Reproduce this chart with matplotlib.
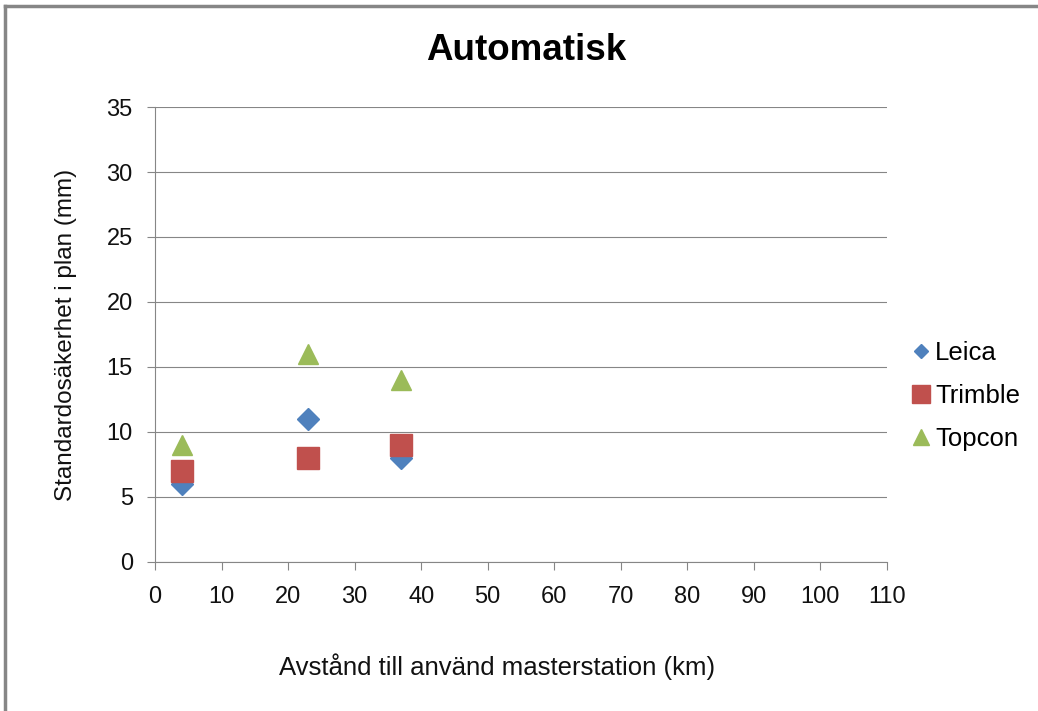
import matplotlib.pyplot as plt
from matplotlib.lines import Line2D

plt.rcParams['font.family'] = ['Liberation Sans', 'DejaVu Sans']

# data
distance = [4, 23, 37]
leica = [6, 11, 8]
trimble = [7, 8, 9]
topcon = [9, 16, 14]

x_ticks = list(range(0, 111, 10))
y_ticks = list(range(0, 36, 5))

grey = '#868686'
c_leica, c_trimble, c_topcon = '#4F81BD', '#C0504D', '#9BBB59'

fig = plt.figure(figsize=[10.38, 7.11], dpi=100)
ax = fig.add_axes([0.1493, 0.2096, 0.7052, 0.6399])

ax.plot(distance, leica, 'D', ms=11, color=c_leica, zorder=3)
ax.plot(distance, trimble, 's', ms=15.5, color=c_trimble, zorder=3)
ax.plot(distance, topcon, '^', ms=15, color=c_topcon, zorder=3)

ax.set_xlim(0, 110)
ax.set_ylim(0, 35)
ax.set_xticks(x_ticks)
ax.set_yticks(y_ticks)
ax.grid(axis='y', color=grey, linewidth=0.8)
ax.set_axisbelow(True)
for s in ['top', 'right']:
    ax.spines[s].set_visible(False)
for s in ['left', 'bottom']:
    ax.spines[s].set_color(grey)
    ax.spines[s].set_linewidth(0.8)
ax.tick_params(colors=grey, labelcolor='#111111', labelsize=17, length=5.5, width=0.8)
ax.tick_params(axis='y', pad=10.5)
ax.tick_params(axis='x', pad=12)

# title
fig.text(0.5067, 1 - 60 / 711, 'Automatisk', fontsize=26.5, fontweight='bold',
         ha='center', va='baseline')

ax.set_xlabel('Avstånd till använd masterstation (km)', fontsize=18.5, color='#111111')
ax.xaxis.label.set_va('baseline')
ax.xaxis.set_label_coords(0.467, -0.248)
ax.set_ylabel('Standardosäkerhet i plan (mm)', fontsize=17.5, color='#111111')
ax.yaxis.label.set_va('baseline')
ax.yaxis.set_label_coords(-0.1134, 0.5)

handles = [
    Line2D([], [], marker='D', ls='', ms=7.1, color=c_leica),
    Line2D([], [], marker='s', ls='', ms=13, color=c_trimble),
    Line2D([], [], marker='^', ls='', ms=11, color=c_topcon),
]
fig.legend(handles, ['Leica', 'Trimble', 'Topcon'], loc='center left',
           bbox_to_anchor=(0.878, 0.443), frameon=False, fontsize=18.5,
           handlelength=0.75, handletextpad=0.18, labelspacing=0.75,
           borderpad=0, borderaxespad=0)

# chart border (top and left edges visible)
fig.add_artist(Line2D([0.005, 1.0], [0.992, 0.992], color=grey, lw=2.5, transform=fig.transFigure))
fig.add_artist(Line2D([0.005, 0.005], [0.0, 0.992], color=grey, lw=2.5, transform=fig.transFigure))

fig.savefig('out.png', dpi=100)
